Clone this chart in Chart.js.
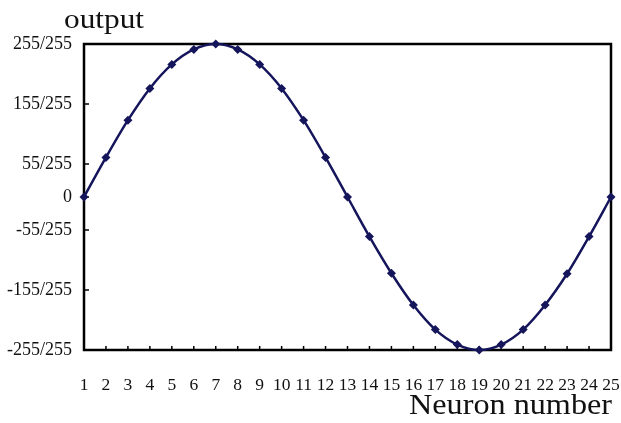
<!DOCTYPE html>
<html>
<head>
<meta charset="utf-8">
<script src="https://cdn.jsdelivr.net/npm/chart.js@4"></script>
<style>
  html, body { margin: 0; padding: 0; background: #fff; }
  #wrap { width: 621px; height: 423px; }
</style>
</head>
<body>
<div id="wrap"><canvas id="grafico"></canvas></div>
<script>
// valores (saída em unidades de 1/255)
const neuronios = ['1','2','3','4','5','6','7','8','9','10','11','12','13','14','15','16','17','18','19','20','21','22','23','24','25'];
const saida = [0, 66, 128, 181, 221, 246, 255, 246, 221, 181, 128, 66, 0,
               -66, -127, -180, -221, -246, -255, -246, -221, -180, -128, -66, 0];
const ticksY = [-255, -155, -55, 0, 55, 155, 255];

const fonte = 'Liberation Serif, Times New Roman, serif';

// moldura, marcas internas e títulos dos eixos
const molduraPlugin = {
    id: 'moldura',
    beforeDatasetsDraw(chart) {
        const { ctx, chartArea: a, scales } = chart;
        ctx.save();
        ctx.strokeStyle = '#000';
        ctx.lineWidth = 1.5;
        // marcas do eixo x (para dentro)
        neuronios.forEach((n, i) => {
            const x = scales.x.getPixelForValue(i);
            ctx.beginPath();
            ctx.moveTo(x, a.bottom);
            ctx.lineTo(x, a.bottom - 4);
            ctx.stroke();
        });
        // marcas do eixo y
        ticksY.forEach(v => {
            const y = scales.y.getPixelForValue(v);
            ctx.beginPath();
            ctx.moveTo(a.left, y);
            ctx.lineTo(a.left + 5, y);
            ctx.stroke();
        });
        ctx.lineWidth = 2.5;
        ctx.strokeRect(a.left, a.top, a.right - a.left, a.bottom - a.top);
        ctx.restore();
    },
    afterDraw(chart) {
        const { ctx } = chart;
        ctx.save();
        ctx.fillStyle = '#111';
        ctx.textBaseline = 'alphabetic';

        ctx.font = '27px ' + fonte;
        ctx.textAlign = 'left';
        ctx.translate(64, 28);
        ctx.scale(1.16, 1);
        ctx.fillText('output', 0, 0);
        ctx.setTransform(1, 0, 0, 1, 0, 0);

        ctx.font = '29px ' + fonte;
        ctx.textAlign = 'right';
        ctx.translate(612, 414);
        ctx.scale(1.11, 1);
        ctx.fillText('Neuron number', 0, 0);
        ctx.restore();
    }
};

const ctx = document.getElementById('grafico').getContext('2d');
new Chart(ctx, {
    type: 'line',
    data: {
        labels: neuronios,
        datasets: [{
            data: saida,
            borderColor: '#15155c',
            backgroundColor: '#15155c',
            borderWidth: 2.5,
            pointStyle: 'rectRot',
            pointRadius: 4.5,
            pointBorderWidth: 0,
            tension: 0.35,
            cubicInterpolationMode: 'monotone',
            clip: false,
            fill: false
        }]
    },
    options: {
        responsive: true,
        maintainAspectRatio: false,
        animation: false,
        devicePixelRatio: 1,
        layout: { padding: { top: 44, right: 10, bottom: 0, left: 0 } },
        plugins: { legend: { display: false }, tooltip: { enabled: false } },
        scales: {
            x: {
                type: 'category',
                offset: false,
                grid: { display: false, drawTicks: false },
                border: { display: false },
                ticks: {
                    color: '#111',
                    padding: 25,
                    maxRotation: 0,
                    autoSkip: false,
                    font: { family: fonte, size: 17.5 }
                },
                afterFit(scale) {
                    scale.height = 73;
                    scale.paddingLeft = 0;
                    scale.paddingRight = 0;
                }
            },
            y: {
                min: -255,
                max: 255,
                grid: { display: false, drawTicks: false },
                border: { display: false },
                afterBuildTicks(scale) {
                    scale.ticks = ticksY.map(v => ({ value: v }));
                },
                ticks: {
                    color: '#111',
                    padding: 12,
                    font: { family: fonte, size: 18 },
                    callback: v => (v === 0 ? '0' : v + '/255')
                },
                afterFit(scale) { scale.width = 84; }
            }
        }
    },
    plugins: [molduraPlugin]
});
</script>
</body>
</html>
